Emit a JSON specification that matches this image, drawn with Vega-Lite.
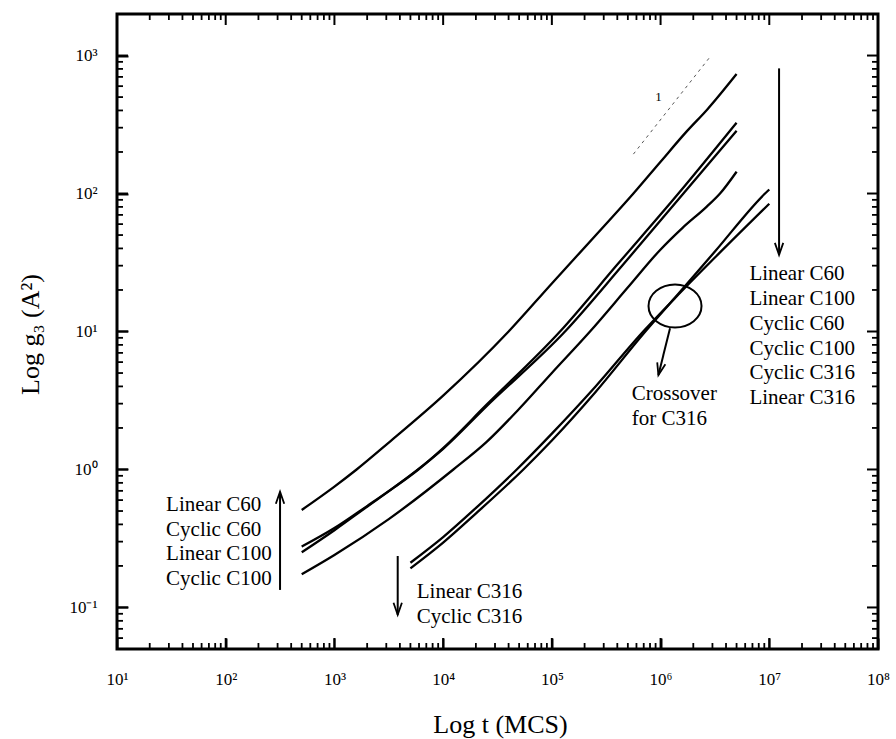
{
  "$schema": "https://vega.github.io/schema/vega-lite/v6.json",
  "width": 761,
  "height": 635,
  "autosize": {"type": "none"},
  "padding": {"left": 117, "top": 14, "right": 18, "bottom": 90},
  "background": "white",
  "config": {
    "font": "Liberation Serif",
    "view": {"stroke": "black", "strokeWidth": 3},
    "axis": {
      "grid": false,
      "domain": false,
      "labelFont": "Liberation Serif",
      "labelFontSize": 17,
      "labelColor": "black",
      "titleFont": "Liberation Serif",
      "titleFontSize": 26,
      "titleFontWeight": "normal",
      "titleColor": "black",
      "tickColor": "black",
      "labelFlush": false,
      "labelOverlap": false,
      "labelBound": false
    }
  },
  "datasets": {
    "curves": [
      {"series": "Linear C60", "t": 500, "g": 0.509},
      {"series": "Linear C60", "t": 1000, "g": 0.752},
      {"series": "Linear C60", "t": 1600, "g": 1.0},
      {"series": "Linear C60", "t": 3162, "g": 1.567},
      {"series": "Linear C60", "t": 10000, "g": 3.43},
      {"series": "Linear C60", "t": 40000, "g": 10},
      {"series": "Linear C60", "t": 100000, "g": 22.3},
      {"series": "Linear C60", "t": 316228, "g": 60.3},
      {"series": "Linear C60", "t": 562341, "g": 100},
      {"series": "Linear C60", "t": 1000000, "g": 170},
      {"series": "Linear C60", "t": 1740000, "g": 282},
      {"series": "Linear C60", "t": 2690000, "g": 407},
      {"series": "Linear C60", "t": 5000000, "g": 735},
      {"series": "Linear C100", "t": 500, "g": 0.251},
      {"series": "Linear C100", "t": 1000, "g": 0.363},
      {"series": "Linear C100", "t": 1995, "g": 0.537},
      {"series": "Linear C100", "t": 3548, "g": 0.741},
      {"series": "Linear C100", "t": 5916, "g": 1.0},
      {"series": "Linear C100", "t": 10000, "g": 1.43},
      {"series": "Linear C100", "t": 25119, "g": 2.95},
      {"series": "Linear C100", "t": 118850, "g": 10},
      {"series": "Linear C100", "t": 398107, "g": 30.4},
      {"series": "Linear C100", "t": 1458814, "g": 100},
      {"series": "Linear C100", "t": 5000000, "g": 326},
      {"series": "Cyclic C60", "t": 500, "g": 0.276},
      {"series": "Cyclic C60", "t": 1000, "g": 0.376},
      {"series": "Cyclic C60", "t": 1995, "g": 0.543},
      {"series": "Cyclic C60", "t": 3548, "g": 0.745},
      {"series": "Cyclic C60", "t": 5916, "g": 1.007},
      {"series": "Cyclic C60", "t": 10000, "g": 1.413},
      {"series": "Cyclic C60", "t": 25119, "g": 2.88},
      {"series": "Cyclic C60", "t": 132130, "g": 10},
      {"series": "Cyclic C60", "t": 446684, "g": 30.2},
      {"series": "Cyclic C60", "t": 1621810, "g": 100},
      {"series": "Cyclic C60", "t": 5000000, "g": 285},
      {"series": "Cyclic C100", "t": 500, "g": 0.174},
      {"series": "Cyclic C100", "t": 1000, "g": 0.24},
      {"series": "Cyclic C100", "t": 3162, "g": 0.437},
      {"series": "Cyclic C100", "t": 12417, "g": 1.0},
      {"series": "Cyclic C100", "t": 25119, "g": 1.585},
      {"series": "Cyclic C100", "t": 50119, "g": 2.754},
      {"series": "Cyclic C100", "t": 100000, "g": 5.01},
      {"series": "Cyclic C100", "t": 224388, "g": 10},
      {"series": "Cyclic C100", "t": 501187, "g": 20.9},
      {"series": "Cyclic C100", "t": 990832, "g": 39.0},
      {"series": "Cyclic C100", "t": 1584893, "g": 56.2},
      {"series": "Cyclic C100", "t": 2660725, "g": 80.4},
      {"series": "Cyclic C100", "t": 3523709, "g": 100},
      {"series": "Cyclic C100", "t": 5000000, "g": 143.9},
      {"series": "Linear C316", "t": 5000, "g": 0.211},
      {"series": "Linear C316", "t": 10000, "g": 0.3236},
      {"series": "Linear C316", "t": 19953, "g": 0.5248},
      {"series": "Linear C316", "t": 47534, "g": 1.0},
      {"series": "Linear C316", "t": 100000, "g": 1.82},
      {"series": "Linear C316", "t": 251189, "g": 3.98},
      {"series": "Linear C316", "t": 691831, "g": 10},
      {"series": "Linear C316", "t": 1348963, "g": 17.38},
      {"series": "Linear C316", "t": 3162278, "g": 34.36},
      {"series": "Linear C316", "t": 10000000, "g": 84.3},
      {"series": "Cyclic C316", "t": 5000, "g": 0.192},
      {"series": "Cyclic C316", "t": 10000, "g": 0.295},
      {"series": "Cyclic C316", "t": 19953, "g": 0.4786},
      {"series": "Cyclic C316", "t": 54702, "g": 1.0},
      {"series": "Cyclic C316", "t": 100000, "g": 1.622},
      {"series": "Cyclic C316", "t": 251189, "g": 3.63},
      {"series": "Cyclic C316", "t": 724436, "g": 10},
      {"series": "Cyclic C316", "t": 1348963, "g": 17.5},
      {"series": "Cyclic C316", "t": 3162278, "g": 38.0},
      {"series": "Cyclic C316", "t": 9141132, "g": 100},
      {"series": "Cyclic C316", "t": 10000000, "g": 107}
    ],
    "slope": [
      {"t": 562341, "g": 193},
      {"t": 2897000, "g": 993}
    ],
    "arrows": [
      {"arrow": "left", "t1": 316, "g1": 0.134, "t2": 316, "g2": 0.69},
      {"arrow": "c316", "t1": 3820, "g1": 0.236, "t2": 3820, "g2": 0.0885},
      {"arrow": "right", "t1": 12300000, "g1": 807, "t2": 12300000, "g2": 35.9},
      {"arrow": "crossover", "t1": 1222000, "g1": 10.56, "t2": 955000, "g2": 4.84}
    ],
    "ellipse": [
      {"t": 1358000, "g": 15.3}
    ],
    "labels": [
      {"label": "Linear C60", "t": 28.3, "g": 0.5006},
      {"label": "Cyclic C60", "t": 28.3, "g": 0.330},
      {"label": "Linear C100", "t": 28.3, "g": 0.2217},
      {"label": "Cyclic C100", "t": 28.3, "g": 0.1462},
      {"label": "Linear C316", "t": 5715, "g": 0.1167},
      {"label": "Cyclic C316", "t": 5715, "g": 0.0769},
      {"label": "Linear C60", "t": 6560000, "g": 23.63},
      {"label": "Linear C100", "t": 6560000, "g": 15.57},
      {"label": "Cyclic C60", "t": 6560000, "g": 10.26},
      {"label": "Cyclic C100", "t": 6560000, "g": 6.76},
      {"label": "Cyclic C316", "t": 6560000, "g": 4.51},
      {"label": "Linear C316", "t": 6560000, "g": 2.985},
      {"label": "Crossover", "t": 543250, "g": 3.19},
      {"label": "for C316", "t": 543250, "g": 2.102}
    ],
    "slopelabel": [
      {"label": "1", "t": 955000, "g": 504}
    ],
    "xmajor": [
      {"t": 10}, {"t": 100}, {"t": 1000}, {"t": 10000}, {"t": 100000}, {"t": 1000000}, {"t": 10000000}, {"t": 100000000}
    ],
    "xminor": [
      {"t": 20}, {"t": 30}, {"t": 40}, {"t": 50}, {"t": 60}, {"t": 70}, {"t": 80}, {"t": 90},
      {"t": 200}, {"t": 300}, {"t": 400}, {"t": 500}, {"t": 600}, {"t": 700}, {"t": 800}, {"t": 900},
      {"t": 2000}, {"t": 3000}, {"t": 4000}, {"t": 5000}, {"t": 6000}, {"t": 7000}, {"t": 8000}, {"t": 9000},
      {"t": 20000}, {"t": 30000}, {"t": 40000}, {"t": 50000}, {"t": 60000}, {"t": 70000}, {"t": 80000}, {"t": 90000},
      {"t": 200000}, {"t": 300000}, {"t": 400000}, {"t": 500000}, {"t": 600000}, {"t": 700000}, {"t": 800000}, {"t": 900000},
      {"t": 2000000}, {"t": 3000000}, {"t": 4000000}, {"t": 5000000}, {"t": 6000000}, {"t": 7000000}, {"t": 8000000}, {"t": 9000000},
      {"t": 20000000}, {"t": 30000000}, {"t": 40000000}, {"t": 50000000}, {"t": 60000000}, {"t": 70000000}, {"t": 80000000}, {"t": 90000000}
    ],
    "ymajor": [
      {"g": 0.1}, {"g": 1}, {"g": 10}, {"g": 100}, {"g": 1000}
    ],
    "yminor": [
      {"g": 0.06}, {"g": 0.07}, {"g": 0.08}, {"g": 0.09},
      {"g": 0.2}, {"g": 0.3}, {"g": 0.4}, {"g": 0.5}, {"g": 0.6}, {"g": 0.7}, {"g": 0.8}, {"g": 0.9},
      {"g": 2}, {"g": 3}, {"g": 4}, {"g": 5}, {"g": 6}, {"g": 7}, {"g": 8}, {"g": 9},
      {"g": 20}, {"g": 30}, {"g": 40}, {"g": 50}, {"g": 60}, {"g": 70}, {"g": 80}, {"g": 90},
      {"g": 200}, {"g": 300}, {"g": 400}, {"g": 500}, {"g": 600}, {"g": 700}, {"g": 800}, {"g": 900}
    ]
  },
  "resolve": {"axis": {"x": "independent", "y": "independent"}},
  "layer": [
    {
      "data": {"name": "curves"},
      "mark": {"type": "line", "interpolate": "monotone", "color": "black", "strokeWidth": 2.3},
      "encoding": {
        "x": {
          "field": "t", "type": "quantitative",
          "scale": {"type": "log", "domain": [10, 100000000], "nice": false},
          "axis": {
            "orient": "bottom",
            "values": [10, 100, 1000, 10000, 100000, 1000000, 10000000, 100000000],
            "ticks": true,
            "offset": -11,
            "tickSize": 11,
            "tickWidth": 2,
            "tickColor": "black",
            "labelFontSize": 17,
            "labelExpr": "'10' + (round(log(datum.value)/LN10) < 0 ? '⁻' : '') + ['⁰','¹','²','³','⁴','⁵','⁶','⁷','⁸','⁹'][abs(round(log(datum.value)/LN10))]",
            "labelPadding": 22,
            "title": "Log t (MCS)",
            "titleX": 383,
            "titleY": 94,
            "titleBaseline": "alphabetic",
            "titleAlign": "center"
          }
        },
        "y": {
          "field": "g", "type": "quantitative",
          "scale": {"type": "log", "domain": [0.05, 2000], "nice": false},
          "axis": {
            "orient": "left",
            "values": [0.1, 1, 10, 100, 1000],
            "ticks": true,
            "offset": -11,
            "tickSize": 11,
            "tickWidth": 2,
            "tickColor": "black",
            "labelFontSize": 17,
            "labelExpr": "'10' + (round(log(datum.value)/LN10) < 0 ? '⁻' : '') + ['⁰','¹','²','³','⁴','⁵','⁶','⁷','⁸','⁹'][abs(round(log(datum.value)/LN10))]",
            "labelPadding": 20,
            "labelBaseline": "middle",
            "title": "Log g₃ (A²)",
            "titleX": -90,
            "titleY": 320,
            "titleAngle": -90,
            "titleBaseline": "alphabetic",
            "titleAlign": "center"
          }
        },
        "detail": {"field": "series", "type": "nominal"}
      }
    },
    {
      "data": {"name": "xmajor"},
      "mark": {"type": "tick", "orient": "vertical", "size": 11, "thickness": 2, "color": "black", "opacity": 1, "yOffset": -5.5},
      "encoding": {
        "x": {"field": "t", "type": "quantitative", "scale": {"type": "log", "domain": [10, 100000000], "nice": false}, "axis": null},
        "y": {"datum": 0.05, "type": "quantitative", "scale": {"type": "log", "domain": [0.05, 2000], "nice": false}, "axis": null}
      }
    },
    {
      "data": {"name": "xmajor"},
      "mark": {"type": "tick", "orient": "vertical", "size": 11, "thickness": 2, "color": "black", "opacity": 1, "yOffset": 5.5},
      "encoding": {
        "x": {"field": "t", "type": "quantitative", "scale": {"type": "log", "domain": [10, 100000000], "nice": false}, "axis": null},
        "y": {"datum": 2000, "type": "quantitative", "scale": {"type": "log", "domain": [0.05, 2000], "nice": false}, "axis": null}
      }
    },
    {
      "data": {"name": "xminor"},
      "mark": {"type": "tick", "orient": "vertical", "size": 6, "thickness": 1.8, "color": "black", "opacity": 1, "yOffset": -3},
      "encoding": {
        "x": {"field": "t", "type": "quantitative", "scale": {"type": "log", "domain": [10, 100000000], "nice": false}, "axis": null},
        "y": {"datum": 0.05, "type": "quantitative", "scale": {"type": "log", "domain": [0.05, 2000], "nice": false}, "axis": null}
      }
    },
    {
      "data": {"name": "xminor"},
      "mark": {"type": "tick", "orient": "vertical", "size": 6, "thickness": 1.8, "color": "black", "opacity": 1, "yOffset": 3},
      "encoding": {
        "x": {"field": "t", "type": "quantitative", "scale": {"type": "log", "domain": [10, 100000000], "nice": false}, "axis": null},
        "y": {"datum": 2000, "type": "quantitative", "scale": {"type": "log", "domain": [0.05, 2000], "nice": false}, "axis": null}
      }
    },
    {
      "data": {"name": "ymajor"},
      "mark": {"type": "tick", "orient": "horizontal", "size": 11, "thickness": 2, "color": "black", "opacity": 1, "xOffset": 5.5},
      "encoding": {
        "x": {"datum": 10, "type": "quantitative", "scale": {"type": "log", "domain": [10, 100000000], "nice": false}, "axis": null},
        "y": {"field": "g", "type": "quantitative", "scale": {"type": "log", "domain": [0.05, 2000], "nice": false}, "axis": null}
      }
    },
    {
      "data": {"name": "ymajor"},
      "mark": {"type": "tick", "orient": "horizontal", "size": 11, "thickness": 2, "color": "black", "opacity": 1, "xOffset": -5.5},
      "encoding": {
        "x": {"datum": 100000000, "type": "quantitative", "scale": {"type": "log", "domain": [10, 100000000], "nice": false}, "axis": null},
        "y": {"field": "g", "type": "quantitative", "scale": {"type": "log", "domain": [0.05, 2000], "nice": false}, "axis": null}
      }
    },
    {
      "data": {"name": "yminor"},
      "mark": {"type": "tick", "orient": "horizontal", "size": 6, "thickness": 1.8, "color": "black", "opacity": 1, "xOffset": 3},
      "encoding": {
        "x": {"datum": 10, "type": "quantitative", "scale": {"type": "log", "domain": [10, 100000000], "nice": false}, "axis": null},
        "y": {"field": "g", "type": "quantitative", "scale": {"type": "log", "domain": [0.05, 2000], "nice": false}, "axis": null}
      }
    },
    {
      "data": {"name": "yminor"},
      "mark": {"type": "tick", "orient": "horizontal", "size": 6, "thickness": 1.8, "color": "black", "opacity": 1, "xOffset": -3},
      "encoding": {
        "x": {"datum": 100000000, "type": "quantitative", "scale": {"type": "log", "domain": [10, 100000000], "nice": false}, "axis": null},
        "y": {"field": "g", "type": "quantitative", "scale": {"type": "log", "domain": [0.05, 2000], "nice": false}, "axis": null}
      }
    },
    {
      "data": {"name": "slope"},
      "mark": {"type": "line", "color": "#555555", "strokeWidth": 1, "strokeDash": [3, 4]},
      "encoding": {
        "x": {"field": "t", "type": "quantitative", "scale": {"type": "log", "domain": [10, 100000000], "nice": false}, "axis": null},
        "y": {"field": "g", "type": "quantitative", "scale": {"type": "log", "domain": [0.05, 2000], "nice": false}, "axis": null}
      }
    },
    {
      "data": {"name": "arrows"},
      "mark": {"type": "rule", "color": "black", "strokeWidth": 2},
      "encoding": {
        "x": {"field": "t1", "type": "quantitative", "scale": {"type": "log", "domain": [10, 100000000], "nice": false}, "axis": null},
        "x2": {"field": "t2"},
        "y": {"field": "g1", "type": "quantitative", "scale": {"type": "log", "domain": [0.05, 2000], "nice": false}, "axis": null},
        "y2": {"field": "g2"}
      }
    },
    {
      "data": {"name": "ellipse"},
      "mark": {"type": "point", "shape": "M 1 0 C 1 0.447 0.552 0.81 0 0.81 C -0.552 0.81 -1 0.447 -1 0 C -1 -0.447 -0.552 -0.81 0 -0.81 C 0.552 -0.81 1 -0.447 1 0 Z", "filled": false, "color": "black", "opacity": 1, "strokeWidth": 2, "size": 2809},
      "encoding": {
        "x": {"field": "t", "type": "quantitative", "scale": {"type": "log", "domain": [10, 100000000], "nice": false}, "axis": null},
        "y": {"field": "g", "type": "quantitative", "scale": {"type": "log", "domain": [0.05, 2000], "nice": false}, "axis": null}
      }
    },
    {
      "data": {"name": "arrows"},
      "transform": [{"filter": "datum.arrow == 'left'"}],
      "mark": {"type": "point", "shape": "M -0.35 1 L 0 0 L 0.35 1", "filled": false, "color": "black", "opacity": 1, "strokeWidth": 1.8, "size": 576},
      "encoding": {
        "x": {"field": "t2", "type": "quantitative", "scale": {"type": "log", "domain": [10, 100000000], "nice": false}, "axis": null},
        "y": {"field": "g2", "type": "quantitative", "scale": {"type": "log", "domain": [0.05, 2000], "nice": false}, "axis": null}
      }
    },
    {
      "data": {"name": "arrows"},
      "transform": [{"filter": "datum.arrow == 'c316' || datum.arrow == 'right'"}],
      "mark": {"type": "point", "shape": "M -0.35 -1 L 0 0 L 0.35 -1", "filled": false, "color": "black", "opacity": 1, "strokeWidth": 1.8, "size": 576},
      "encoding": {
        "x": {"field": "t2", "type": "quantitative", "scale": {"type": "log", "domain": [10, 100000000], "nice": false}, "axis": null},
        "y": {"field": "g2", "type": "quantitative", "scale": {"type": "log", "domain": [0.05, 2000], "nice": false}, "axis": null}
      }
    },
    {
      "data": {"name": "arrows"},
      "transform": [{"filter": "datum.arrow == 'crossover'"}],
      "mark": {"type": "point", "shape": "M -0.35 -1 L 0 0 L 0.35 -1", "angle": 14, "filled": false, "color": "black", "opacity": 1, "strokeWidth": 1.8, "size": 576},
      "encoding": {
        "x": {"field": "t2", "type": "quantitative", "scale": {"type": "log", "domain": [10, 100000000], "nice": false}, "axis": null},
        "y": {"field": "g2", "type": "quantitative", "scale": {"type": "log", "domain": [0.05, 2000], "nice": false}, "axis": null}
      }
    },
    {
      "data": {"name": "labels"},
      "mark": {"type": "text", "align": "left", "baseline": "alphabetic", "font": "Liberation Serif", "fontSize": 21, "color": "black"},
      "encoding": {
        "x": {"field": "t", "type": "quantitative", "scale": {"type": "log", "domain": [10, 100000000], "nice": false}, "axis": null},
        "y": {"field": "g", "type": "quantitative", "scale": {"type": "log", "domain": [0.05, 2000], "nice": false}, "axis": null},
        "text": {"field": "label"}
      }
    },
    {
      "data": {"name": "slopelabel"},
      "mark": {"type": "text", "align": "center", "baseline": "middle", "font": "Liberation Serif", "fontSize": 13, "color": "black"},
      "encoding": {
        "x": {"field": "t", "type": "quantitative", "scale": {"type": "log", "domain": [10, 100000000], "nice": false}, "axis": null},
        "y": {"field": "g", "type": "quantitative", "scale": {"type": "log", "domain": [0.05, 2000], "nice": false}, "axis": null},
        "text": {"field": "label"}
      }
    }
  ]
}
